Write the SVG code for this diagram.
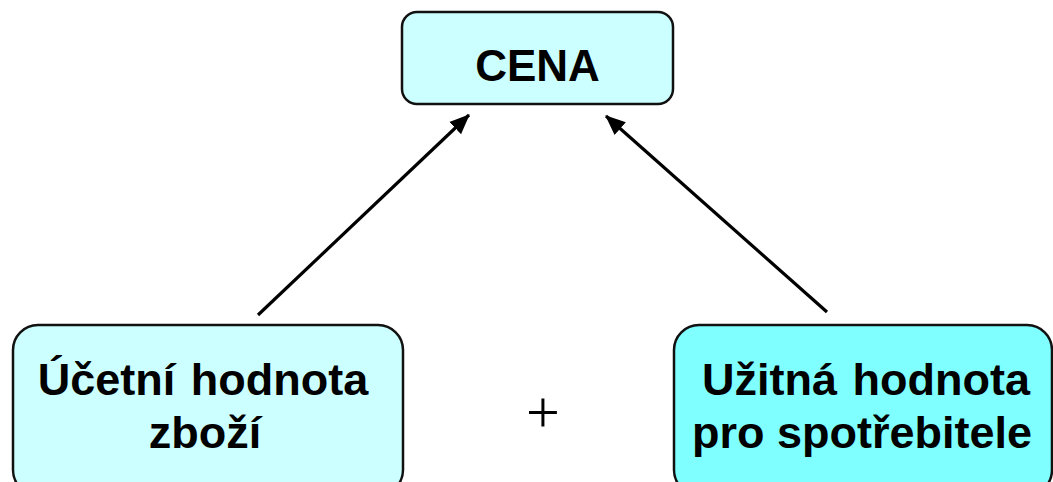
<svg xmlns="http://www.w3.org/2000/svg" width="1053" height="482" viewBox="0 0 1053 482">
<style>
.box{stroke:#111;stroke-width:2.5}
.t{font-family:"Liberation Sans",Arial,sans-serif;font-weight:bold;font-size:45px;fill:#000;text-anchor:middle}
.conn{stroke:#000;stroke-width:3.2;fill:none}
</style>
<defs>
<marker id="ah" markerWidth="20" markerHeight="20" viewBox="0 0 20 20" refX="19" refY="10" orient="auto" markerUnits="userSpaceOnUse">
<path d="M0,1.5 L20,10 L0,18.5 Z" fill="#000"/>
</marker>
</defs>
<rect width="1053" height="482" fill="#fff"/>
<g id="connectors">
<line class="conn" x1="258" y1="315" x2="469" y2="115" marker-end="url(#ah)"/>
<line class="conn" x1="827" y1="312" x2="606" y2="116" marker-end="url(#ah)"/>
</g>
<g id="cena">
<rect class="box" x="402" y="12" width="271" height="92" rx="15" fill="#ccffff"/>
<text class="t" x="537.5" y="81" style="font-size:44px">CENA</text>
</g>
<g id="ucetni">
<rect class="box" x="13" y="325" width="390" height="170" rx="25" fill="#ccffff"/>
<text class="t" x="203" y="395" word-spacing="3">Účetní hodnota</text>
<text class="t" x="205" y="448">zboží</text>
</g>
<g id="uzitna">
<rect class="box" x="674" y="325" width="378" height="170" rx="25" fill="#7fffff"/>
<text class="t" x="866" y="395" word-spacing="3">Užitná hodnota</text>
<text class="t" x="862" y="448">pro spotřebitele</text>
</g>
<g id="plus">
<text x="543" y="432" font-family="Liberation Serif,serif" font-size="60" text-anchor="middle" fill="#000">+</text>
</g>
</svg>
